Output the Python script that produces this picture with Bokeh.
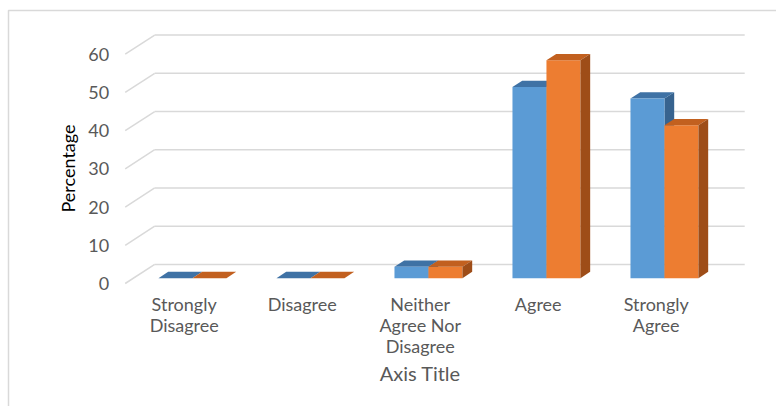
import math
from bokeh.plotting import figure
from bokeh.models import Range1d
from bokeh.core.properties import value
from bokeh.embed import file_html
from bokeh.resources import INLINE

# ---------------- data ----------------
categories = ["Strongly Disagree", "Disagree", "Neither Agree Nor Disagree", "Agree", "Strongly Agree"]
category_labels = ["Strongly\nDisagree", "Disagree", "Neither\nAgree Nor\nDisagree", "Agree", "Strongly\nAgree"]
series1 = [0, 0, 3, 50, 47]
series2 = [0, 0, 3, 57, 40]
y_ticks = [0, 10, 20, 30, 40, 50, 60]
y_title = "Percentage"
x_title = "Axis Title"

# ---------------- layout / style ----------------
W, H = 776, 406
PX_PER_CAT = 118.0
PX_PER_UNIT = 3.822
X0_PX = 183.7      # pixel of category 0 on the front plane
Y0_PX = 283.0      # pixel (from top) of value 0 on the front plane

DX, DY = 0.25, 5.0          # full depth of the 3D box, data units
FRONT_F, DEPTH_F = 0.28, 0.33
BAR_W = 0.288

GRID = "#d9d9d9"
TXT = "#595959"
FONT = "Lato"
C1, C1_TOP, C1_SIDE = "#5B9BD5", "#3F72A5", "#37638F"
C2, C2_TOP, C2_SIDE = "#ED7D31", "#C2601F", "#9E4D18"

def dx(px):
    return (px - X0_PX) / PX_PER_CAT

def dy(py):
    return (Y0_PX - py) / PX_PER_UNIT

p = figure(width=W, height=H, output_backend="svg", toolbar_location=None,
           x_range=Range1d(dx(0), dx(W)), y_range=Range1d(dy(H), dy(0)),
           min_border=0, outline_line_color=None)
p.axis.visible = False
p.grid.visible = False
p.background_fill_color = "white"
p.border_fill_color = "white"

# chart area border (top and left)
p.line([dx(8), dx(8), dx(W)], [dy(H), dy(10), dy(10)], line_color=GRID, line_width=1.5)

# 3D gridlines: back wall lines + side diagonals
n = len(categories)
xl, xr = -0.5, n - 0.5
p.multi_line(xs=[[xl + DX, xr + DX] for _ in y_ticks],
             ys=[[t + DY, t + DY] for t in y_ticks],
             line_color=GRID, line_width=1.5)
p.multi_line(xs=[[xl, xl + DX] for _ in y_ticks],
             ys=[[t, t + DY] for t in y_ticks],
             line_color=GRID, line_width=1.5)

# bars
fx, fy = FRONT_F * DX, FRONT_F * DY
bx, by = DEPTH_F * DX, DEPTH_F * DY

def faces(vals, shift):
    L = [i + fx + shift for i in range(len(vals))]
    R = [l + BAR_W for l in L]
    B = [fy for _ in vals]
    T = [v + fy for v in vals]
    tops_x = [[l, r, r + bx, l + bx] for l, r in zip(L, R)]
    tops_y = [[t, t, t + by, t + by] for t in T]
    side_x = [[r, r, r + bx, r + bx] for r in R]
    side_y = [[b, t, t + by, b + by] for b, t in zip(B, T)]
    return L, R, B, T, tops_x, tops_y, side_x, side_y

L1, R1, B1, T1, tx1, ty1, sx1, sy1 = faces(series1, -BAR_W)
L2, R2, B2, T2, tx2, ty2, sx2, sy2 = faces(series2, 0.0)

p.patches(sx1, sy1, fill_color=C1_SIDE, line_color=None)
p.patches(tx1, ty1, fill_color=C1_TOP, line_color=None)
p.quad(left=L1, right=R1, bottom=B1, top=T1, fill_color=C1, line_color=None)
p.quad(left=L2, right=R2, bottom=B2, top=T2, fill_color=C2, line_color=None)
p.patches(tx2, ty2, fill_color=C2_TOP, line_color=None)
p.patches(sx2, sy2, fill_color=C2_SIDE, line_color=None)

# y tick labels
p.text(x=[xl] * len(y_ticks), y=y_ticks, text=[str(t) for t in y_ticks],
       x_offset=-16, text_align="right", text_baseline="middle",
       text_font=value(FONT), text_font_size="18px", text_color=TXT)

# category labels
p.text(x=list(range(n)), y=[0] * n, text=category_labels,
       y_offset=9, text_align="center", text_baseline="top",
       text_font=value(FONT), text_font_size="18px", text_color=TXT,
       text_line_height=0.97)

# axis titles
p.text(x=[dx(67)], y=[dy(168)], text=[y_title], angle=math.pi / 2,
       text_align="center", text_baseline="middle",
       text_font=value(FONT), text_font_size="18px", text_color="#000000")
p.text(x=[2], y=[dy(372)], text=[x_title],
       text_align="center", text_baseline="middle",
       text_font=value(FONT), text_font_size="20px", text_color=TXT)

open("out.html", "w").write(file_html(p, INLINE))
